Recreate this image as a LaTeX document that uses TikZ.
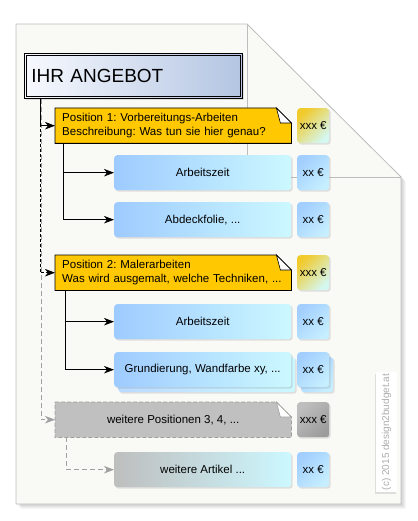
\documentclass[tikz,border=0pt]{standalone}
\usepackage{fontspec}
\setmainfont{Liberation Sans}
\usetikzlibrary{arrows.meta,backgrounds,shadows}
\frenchspacing
\definecolor{pagefill}{HTML}{F9F9F6}
\definecolor{pageline}{HTML}{BDBDBD}
\definecolor{notegold}{HTML}{FFC800}
\definecolor{itemblue}{HTML}{9ECBFF}
\definecolor{itemcyan}{HTML}{CCF8FF}
\definecolor{priceblue}{HTML}{A2CFFF}
\definecolor{pricecyan}{HTML}{C6EEFF}
\definecolor{goldtl}{HTML}{F1CA2C}
\definecolor{cyanbr}{HTML}{D4F7F0}
\definecolor{steelr}{HTML}{B3C5E2}
\definecolor{steell}{HTML}{F7F9FE}
\definecolor{grayfill}{HTML}{C0C0C0}
\definecolor{grayline}{HTML}{A0A0A0}
\definecolor{graytl}{HTML}{BEBEBE}
\definecolor{graybr}{HTML}{9C9C9C}
\definecolor{copytext}{HTML}{ADADAD}
\newcommand\drawnote[4]{%
  \filldraw[fill=#2,#3] (#1.north west) -- ([xshift=-15pt]#1.north east) -- ([yshift=-15pt]#1.north east) -- (#1.south east) -- (#1.south west) -- cycle;
  \filldraw[fill=white,#4] ([xshift=-15pt]#1.north east) -- ([xshift=-11pt,yshift=-15pt]#1.north east) -- ([yshift=-15pt]#1.north east) -- cycle;}
\begin{document}
\begin{tikzpicture}[x=1pt,y=-1pt,
  conn/.style={line width=0.8pt,draw=black,-{Stealth[length=10pt,width=7.5pt,inset=3pt]}},
  dconn/.style={conn,dash pattern=on 3pt off 2pt},
  gconn/.style={line width=0.8pt,draw=grayline,dash pattern=on 5pt off 3pt,-{Stealth[length=10pt,width=7.5pt,inset=3pt,fill=grayline]}},
  txt/.style={font=\fontsize{11.5}{14.2}\selectfont},
  softshadow/.style={drop shadow={shadow xshift=1.5pt,shadow yshift=-1.5pt,opacity=0.22}},
  itembox/.style={txt,anchor=north west,minimum width=177pt,minimum height=35pt,inner sep=0pt,rounded corners=3pt,left color=itemblue,right color=itemcyan,softshadow},
  pricebox/.style={txt,anchor=north west,minimum width=32pt,minimum height=35pt,inner sep=0pt,rounded corners=3pt,top color=priceblue,bottom color=pricecyan,shading angle=45,softshadow},
  goldprice/.style={pricebox,top color=goldtl,bottom color=cyanbr,shading angle=45},
  grayprice/.style={pricebox,top color=graytl,bottom color=graybr,shading angle=45},
  notetext/.style={txt,anchor=north west,minimum height=35pt,text width=222pt,inner xsep=7pt,inner ysep=0pt,align=left},
  graynote/.style={txt,anchor=north west,minimum height=35pt,minimum width=236pt,inner sep=0pt},
  goldline/.style={draw=black,line width=0.8pt},
  grayoutline/.style={draw=grayline,line width=0.8pt,dash pattern=on 4pt off 2pt},
]
\useasboundingbox (0,0) rectangle (417,521);
% page
\begin{pgfonlayer}{background}
  \foreach \d in {1.5,3,4.5}{
    \fill[black,opacity=0.06,shift={(\d,\d)}] (16,24) -- (247,24) -- (401,177) -- (401,504) -- (16,504) -- cycle;}
  \filldraw[fill=pagefill,draw=pageline,line width=0.8pt] (16,24) -- (247,24) -- (401,177) -- (401,504) -- (16,504) -- cycle;
  \draw[pageline,line width=0.8pt] (247,24) -- (247,177) -- (401,177);
\end{pgfonlayer}

% copyright strip
\node[rotate=90,fill=white,minimum width=120pt,minimum height=21pt,inner sep=0pt,
  font=\fontsize{10}{12}\selectfont,text=copytext,
  drop shadow={shadow xshift=-1.5pt,shadow yshift=-1.5pt,opacity=0.22}] (copyr) at (386.5,432) {(c) 2015 design2budget.at};

% header
\node[anchor=north west,minimum height=45pt,text width=204pt,inner xsep=7pt,inner ysep=0pt,align=left,
  font=\fontsize{19}{22}\selectfont,left color=steell,right color=steelr,draw=black,line width=0.8pt,softshadow] (ang) at (24,53) {IHR ANGEBOT};
\draw[line width=0.8pt] ([shift={(2.8pt,-2.8pt)}]ang.north west) rectangle ([shift={(-2.8pt,2.8pt)}]ang.south east);

% position 1
\node[notetext] (p1) at (55,108) {Position 1: Vorbereitungs-Arbeiten\\Beschreibung: Was tun sie hier genau?};
\node[goldprice] (pp1) at (297,108) {xxx €};
\node[itembox] (a1) at (114,155) {Arbeitszeit};
\node[pricebox] (pa1) at (297,155) {xx €};
\node[itembox] (a2) at (114,202) {Abdeckfolie, ...};
\node[pricebox] (pa2) at (297,202) {xx €};

% position 2
\node[notetext] (p2) at (55,255) {Position 2: Malerarbeiten\\Was wird ausgemalt, welche Techniken, ...};
\node[goldprice] (pp2) at (297,255) {xxx €};
\node[itembox] (b1) at (114,304) {Arbeitszeit};
\node[pricebox] (pb1) at (297,304) {xx €};
\node[itembox,left color=itemblue!70!white] (b2back) at (118,357) {};
\node[pricebox] (pb2back) at (301,357) {};
\node[itembox] (b2) at (114,352) {Grundierung, Wandfarbe xy, ...};
\node[pricebox] (pb2) at (297,352) {xx €};

% further positions
\node[graynote] (p3) at (55,402) {weitere Positionen 3, 4, ...};
\node[grayprice] (pp3) at (297,402) {xxx €};
\node[itembox,left color=graytl] (c1) at (114,452) {weitere Artikel ...};
\node[pricebox] (pc1) at (297,452) {xx €};

% note shapes
\begin{pgfonlayer}{background}
  \drawnote{p1}{notegold}{goldline}{draw=black,line width=0.6pt}
  \drawnote{p2}{notegold}{goldline}{draw=black,line width=0.6pt}
  \drawnote{p3}{grayfill}{grayoutline}{draw=grayline,line width=0.6pt}
\end{pgfonlayer}

% connectors
\draw[gconn] ([xshift=17pt]ang.south west) |- (p3.west);
\draw[dconn] ([xshift=16pt]ang.south west) |- (p2.west);
\draw[conn] ([xshift=16pt]ang.south west) |- (p1.west);
\draw[conn] ([xshift=8pt]p1.south west) |- (a1.west);
\draw[conn] ([xshift=8pt]p1.south west) |- (a2.west);
\draw[conn] ([xshift=10pt]p2.south west) |- (b1.west);
\draw[conn] ([xshift=10pt]p2.south west) |- (b2.west);
\draw[gconn] ([xshift=11pt]p3.south west) |- (c1.west);
\end{tikzpicture}
\end{document}
